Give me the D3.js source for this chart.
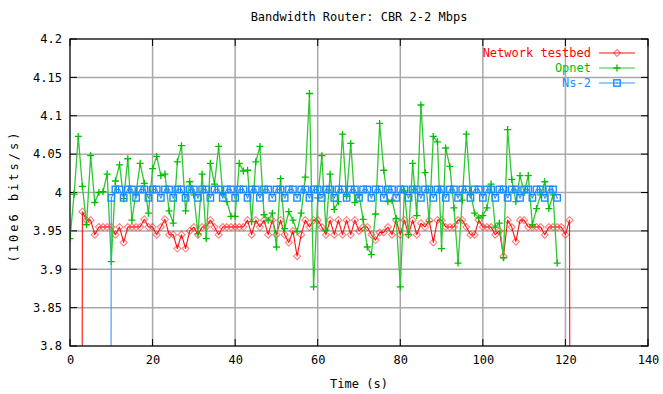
<!DOCTYPE html>
<html>
<head>
<meta charset="utf-8">
<script src="https://cdn.jsdelivr.net/npm/d3@7"></script>
<style>
  body { margin: 0; background: #fff; }
  svg { display: block; }
  text { font-family: "DejaVu Sans Mono", "Liberation Mono", monospace; font-size: 12px; }
</style>
</head>
<body>
<svg id="chart" width="663" height="394"></svg>
<script>
// Chart text
const titleText = "Bandwidth Router: CBR 2-2 Mbps";
const xLabel = "Time (s)";
const yLabel = "(10e6 bits/s)";

// Axis ticks
const xTicks = [0, 20, 40, 60, 80, 100, 120, 140];
const yTicks = [3.8, 3.85, 3.9, 3.95, 4.0, 4.05, 4.1, 4.15, 4.2];
const yTickLabels = ["3.8", "3.85", "3.9", "3.95", "4", "4.05", "4.1", "4.15", "4.2"];

// Series names
const seriesNames = ["Network testbed", "Opnet", "Ns-2"];

// Network testbed: one sample per second, starting at t = 2
const testbedStart = 2;
const testbedValues = [
  0, 3.975, 3.964, 3.964, 3.945, 3.955, 3.955, 3.955, 3.955, 3.945,
  3.955, 3.935, 3.955, 3.955, 3.955, 3.955, 3.965, 3.955, 3.955, 3.945,
  3.955, 3.965, 3.945, 3.945, 3.927, 3.945, 3.927, 3.950, 3.955, 3.945,
  3.955, 3.955, 3.964, 3.955, 3.945, 3.955, 3.955, 3.955, 3.955, 3.955,
  3.955, 3.964, 3.945, 3.964, 3.955, 3.964, 3.945, 3.964, 3.945, 3.964,
  3.945, 3.935, 3.950, 3.917, 3.945, 3.964, 3.955, 3.964, 3.964, 3.955,
  3.945, 3.964, 3.945, 3.964, 3.945, 3.964, 3.945, 3.964, 3.950, 3.955,
  3.955, 3.945, 3.938, 3.948, 3.948, 3.955, 3.945, 3.964, 3.945, 3.964,
  3.945, 3.964, 3.945, 3.960, 3.955, 3.964, 3.935, 3.964, 3.964, 3.955,
  3.955, 3.955, 3.964, 3.964, 3.955, 3.945, 3.945, 3.964, 3.955, 3.955,
  3.955, 3.945, 3.950, 3.917, 3.964, 3.955, 3.936, 3.964, 3.964, 3.955,
  3.955, 3.955, 3.955, 3.945, 3.955, 3.955, 3.955, 3.955, 3.945, 3.964,
  0
];

// Opnet: one sample per second, starting at t = 0
const opnetStart = 0;
const opnetValues = [
  3.940, 3.998, 4.073, 4.008, 3.958, 4.048, 3.987, 4.000, 4.001, 4.024,
  3.910, 4.015, 4.036, 3.992, 4.044, 3.964, 4.000, 4.038, 4.012, 3.973,
  4.031, 4.047, 4.022, 4.024, 3.976, 3.960, 4.040, 4.061, 3.976, 4.014,
  3.997, 3.946, 4.024, 3.940, 4.038, 4.011, 4.060, 3.999, 3.988, 3.969,
  3.969, 4.038, 4.028, 4.029, 3.962, 4.040, 4.060, 3.971, 3.964, 3.973,
  3.929, 4.018, 3.953, 3.975, 3.964, 3.949, 3.973, 4.020, 4.129, 3.877,
  3.993, 4.048, 3.951, 4.024, 3.978, 3.988, 4.076, 3.995, 4.064, 3.987,
  3.997, 3.965, 3.929, 3.919, 3.972, 4.090, 4.029, 3.988, 3.990, 3.966,
  3.877, 4.002, 3.945, 4.038, 3.970, 4.114, 4.026, 3.962, 4.073, 4.066,
  3.927, 4.058, 4.034, 3.980, 3.908, 3.990, 4.076, 4.000, 3.973, 3.967,
  3.970, 3.980, 4.011, 3.955, 3.960, 3.915, 4.082, 4.017, 3.988, 4.022,
  4.000, 4.022, 3.958, 3.979, 3.997, 4.014, 3.979, 3.997, 3.908
];

// Ns-2: one sample per second, starting at t = 9
const ns2Start = 9;
const ns2Values = [
  0,
  3.993, 4.004, 4.004, 3.993, 4.004, 4.004, 3.993, 4.004, 4.004,
  3.993, 4.004, 4.004, 3.993, 4.004, 4.004, 3.993, 4.004, 4.004,
  3.993, 4.004, 4.004, 3.993, 4.004, 4.004, 3.993, 4.004, 4.004,
  3.993, 4.004, 4.004, 3.993, 4.004, 4.004, 3.993, 4.004, 4.004,
  3.993, 4.004, 4.004, 3.993, 4.004, 4.004, 3.993, 4.004, 4.004,
  3.993, 4.004, 4.004, 3.993, 4.004, 4.004, 3.993, 4.004, 4.004,
  3.993, 4.004, 4.004, 3.993, 4.004, 4.004, 3.993, 4.004, 4.004,
  3.993, 4.004, 4.004, 3.993, 4.004, 4.004, 3.993, 4.004, 4.004,
  3.993, 4.004, 4.004, 3.993, 4.004, 4.004, 3.993, 4.004, 4.004,
  3.993, 4.004, 4.004, 3.993, 4.004, 4.004, 3.993, 4.004, 4.004,
  3.993, 4.004, 4.004, 3.993, 4.004, 4.004, 3.993, 4.004, 4.004,
  3.993, 4.004, 4.004, 3.993, 4.004, 4.004, 3.993, 4.004, 4.004,
  3.993
];

const colors = { testbed: "#ff0000", opnet: "#00c000", ns2: "#1a8cff" };
const lineColors = { testbed: "#ff1010", opnet: "#30c830", ns2: "#3399ff" };

// Layout
const svg = d3.select("#chart");
const plot = { left: 70, right: 648, top: 39, bottom: 346 };

const x = d3.scaleLinear().domain([0, 140]).range([plot.left, plot.right]);
const y = d3.scaleLinear().domain([3.8, 4.2]).range([plot.bottom, plot.top]);

// Clip to the plotting area
svg.append("defs").append("clipPath").attr("id", "plotClip")
  .append("rect")
  .attr("x", plot.left).attr("y", plot.top)
  .attr("width", plot.right - plot.left).attr("height", plot.bottom - plot.top);

// Grid
const grid = svg.append("g");
grid.selectAll("line.gx").data(xTicks.slice(1, -1)).join("line")
  .attr("x1", d => x(d)).attr("x2", d => x(d))
  .attr("y1", plot.top).attr("y2", plot.bottom)
  .attr("stroke", "#a8a8a8").attr("stroke-width", 1.5);
grid.selectAll("line.gy").data(yTicks.slice(1, -1)).join("line")
  .attr("x1", plot.left).attr("x2", plot.right)
  .attr("y1", d => y(d)).attr("y2", d => y(d))
  .attr("stroke", "#a8a8a8").attr("stroke-width", 1.5);

// Axes (ticks on all four sides, pointing inward)
const tickLen = 7;
const axB = d3.axisBottom(x).tickValues(xTicks).tickSize(0).tickPadding(9)
  .tickFormat(d3.format("d"));
const axL = d3.axisLeft(y).tickValues(yTicks).tickSize(0).tickPadding(8)
  .tickFormat((d, i) => yTickLabels[i]);

const gB = svg.append("g").attr("transform", `translate(0,${plot.bottom})`).call(axB);
const gL = svg.append("g").attr("transform", `translate(${plot.left},0)`).call(axL);
[gB, gL].forEach(g => {
  g.select(".domain").remove();
  g.selectAll("text").attr("fill", "#000")
    .style("font-family", '"DejaVu Sans Mono", monospace').style("font-size", "12px");
});

const ticks = svg.append("g").attr("stroke", "#000").attr("stroke-width", 1);
xTicks.forEach(v => {
  ticks.append("line").attr("x1", x(v)).attr("x2", x(v))
    .attr("y1", plot.bottom).attr("y2", plot.bottom - tickLen);
  ticks.append("line").attr("x1", x(v)).attr("x2", x(v))
    .attr("y1", plot.top).attr("y2", plot.top + tickLen);
});
yTicks.forEach(v => {
  ticks.append("line").attr("x1", plot.left).attr("x2", plot.left + tickLen)
    .attr("y1", y(v)).attr("y2", y(v));
  ticks.append("line").attr("x1", plot.right).attr("x2", plot.right - tickLen)
    .attr("y1", y(v)).attr("y2", y(v));
});

// Series
function toPoints(start, values) {
  return values.map((v, i) => ({ t: start + i, v }));
}
const series = [
  { key: "testbed", name: seriesNames[0], pts: toPoints(testbedStart, testbedValues), marker: "diamond" },
  { key: "opnet", name: seriesNames[1], pts: toPoints(opnetStart, opnetValues), marker: "plus" },
  { key: "ns2", name: seriesNames[2], pts: toPoints(ns2Start, ns2Values), marker: "square" }
];

const line = d3.line().x(d => x(d.t)).y(d => y(d.v));

function drawMarker(g, kind, cx, cy, color) {
  if (kind === "diamond") {
    g.append("path")
      .attr("d", `M${cx},${cy - 3.5}L${cx + 3.5},${cy}L${cx},${cy + 3.5}L${cx - 3.5},${cy}Z`)
      .attr("fill", "none").attr("stroke", color).attr("stroke-width", 1.1).attr("stroke-opacity", 0.5);
  } else if (kind === "plus") {
    g.append("path")
      .attr("d", `M${cx - 3.5},${cy}H${cx + 3.5}M${cx},${cy - 3.5}V${cy + 3.5}`)
      .attr("fill", "none").attr("stroke", color).attr("stroke-width", 1.3);
  } else {
    g.append("rect")
      .attr("x", cx - 3.2).attr("y", cy - 3.2).attr("width", 6.4).attr("height", 6.4)
      .attr("fill", "none").attr("stroke", color).attr("stroke-width", 1.4);
    g.append("rect")
      .attr("x", cx - 0.8).attr("y", cy - 0.8).attr("width", 1.6).attr("height", 1.6)
      .attr("fill", color).attr("fill-opacity", 0.6);
  }
}

const dataLayer = svg.append("g").attr("clip-path", "url(#plotClip)");
series.forEach(s => {
  const g = dataLayer.append("g");
  g.append("path").datum(s.pts).attr("d", line)
    .attr("fill", "none").attr("stroke", lineColors[s.key])
    .attr("stroke-width", s.key === "opnet" ? 1.3 : 1.1).attr("stroke-linejoin", "round");
  s.pts.forEach(p => {
    if (p.v >= 3.8 && p.v <= 4.2) drawMarker(g, s.marker, x(p.t), y(p.v), colors[s.key]);
  });
});

// Border
svg.append("rect")
  .attr("x", plot.left).attr("y", plot.top)
  .attr("width", plot.right - plot.left).attr("height", plot.bottom - plot.top)
  .attr("fill", "none").attr("stroke", "#000").attr("stroke-width", 1.3);

// Legend (top right, inside the frame)
const legend = svg.append("g");
series.forEach((s, i) => {
  const ly = 53 + i * 15;
  legend.append("text")
    .attr("x", 591).attr("y", ly).attr("dy", "0.35em")
    .attr("text-anchor", "end").attr("fill", colors[s.key])
    .text(s.name);
  legend.append("line")
    .attr("x1", 599).attr("x2", 635).attr("y1", ly).attr("y2", ly)
    .attr("stroke", lineColors[s.key]).attr("stroke-width", 1.1);
  drawMarker(legend, s.marker, 617, ly, colors[s.key]);
});

// Titles
svg.append("text")
  .attr("x", 359).attr("y", 17).attr("dy", "0.35em")
  .attr("text-anchor", "middle").attr("fill", "#000")
  .text(titleText);
svg.append("text")
  .attr("x", 359).attr("y", 384).attr("dy", "0.35em")
  .attr("text-anchor", "middle").attr("fill", "#000")
  .text(xLabel);
svg.append("text")
  .attr("transform", `translate(14,196) rotate(-90)`)
  .attr("dy", "0.35em")
  .attr("text-anchor", "middle").attr("fill", "#000")
  .style("letter-spacing", "3px")
  .text(yLabel);
</script>
</body>
</html>
